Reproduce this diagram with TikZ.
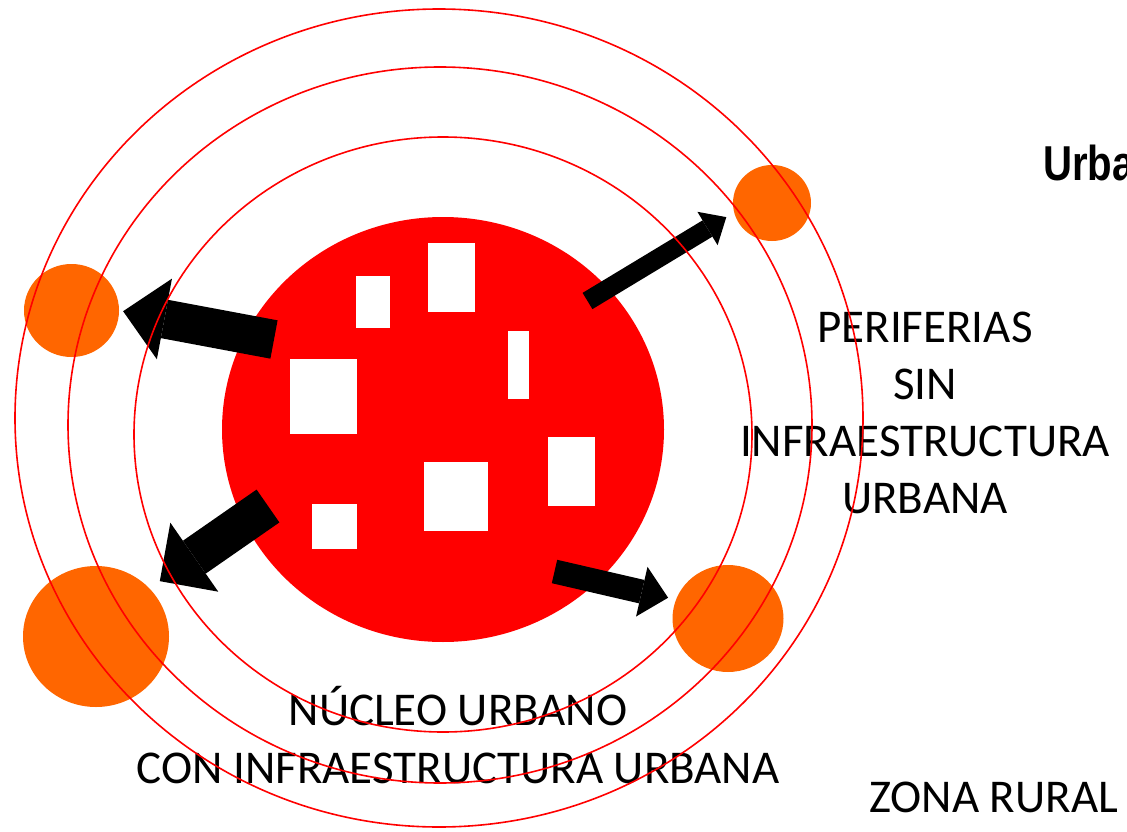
\documentclass[tikz,border=0pt]{standalone}
\usepackage{fontspec}
\setmainfont{Carlito}
\newfontfamily\titulofont[FakeStretch=0.82]{Liberation Sans}
\usetikzlibrary{shapes.geometric,arrows.meta}
\definecolor{rojo}{RGB}{255,0,0}
\definecolor{naranja}{RGB}{255,102,0}

\begin{document}
\begin{tikzpicture}[x=1pt,y=-1pt,
    anillo/.style={draw=rojo, line width=1.6pt},
    pueblo/.style={ellipse, fill=naranja, inner sep=0pt},
    casa/.style={fill=white},
    flecha/.style n args={3}{line width=#1,
      -{Triangle[length=#3, width=#2, line width=0pt]}},
    rotulo/.style={font=\fontsize{47}{58}\selectfont, inner sep=0pt, anchor=base}]
  \useasboundingbox[fill=white] (0,0) rectangle (1127,832);
  % nucleo urbano
  \node[ellipse, fill=rojo, inner sep=0pt, minimum width=442pt,
    minimum height=425pt] (nucleo) at (443,429.5) {};
  \fill[casa] (356,276) rectangle (390,328);
  \fill[casa] (428,243) rectangle (475,312);
  \fill[casa] (508,331) rectangle (529,399);
  \fill[casa] (290,359) rectangle (357,434);
  \fill[casa] (548,437) rectangle (595,506);
  \fill[casa] (424,462) rectangle (488,531);
  \fill[casa] (312,504) rectangle (357,549);
  % periferias
  \node[pueblo, minimum width=78pt, minimum height=76pt] (pne) at (772,203) {};
  \node[pueblo, minimum width=95pt, minimum height=93pt] (po) at (71.5,310.5) {};
  \node[pueblo, minimum width=146pt, minimum height=141pt] (pso) at (96,636.5) {};
  \node[pueblo, minimum width=111pt, minimum height=107pt] (pse) at (728,618.5) {};
  % flechas
  \coordinate (sale1) at (274,339.5);
  \coordinate (sale2) at (587.5,301);
  \coordinate (sale3) at (268,506);
  \coordinate (sale4) at (554.5,571.5);
  \draw[flecha={39pt}{82pt}{42pt}, shorten >=4pt] (sale1) -- (po.east);
  \draw[flecha={19pt}{39pt}{22pt}, shorten >=9pt] (sale2) -- (pne.194.6);
  \draw[flecha={40pt}{84pt}{42pt}, shorten >=12.5pt] (sale3) -- (pso.42.8);
  \draw[flecha={24pt}{51pt}{27pt}, shorten >=8pt] (sale4) -- (pse.160);
  % textos
  \node[rotulo] (nucleo1) at (458,725) {NÚCLEO URBANO};
  \node[rotulo] (nucleo2) at (458,783) {CON INFRAESTRUCTURA URBANA};
  \foreach \t [count=\i] in {PERIFERIAS, SIN, INFRAESTRUCTURA, URBANA}
    \node[rotulo] (peri\i) at (925,{342+57*(\i-1)}) {\t};
  \node[rotulo, anchor=base west] (rural) at (869,812) {ZONA RURAL};
  \node[anchor=base west, inner sep=0pt,
    font=\titulofont\bfseries\fontsize{49}{58}\selectfont] (titulo) at (1043,180) {Urba};
  % anillos
  \foreach \cx/\cy/\rx/\ry in {443/434.5/309/297.5, 440/425/372/358, 439/418/424/409}
    \draw[anillo] (\cx,\cy) ellipse [x radius=\rx, y radius=\ry];
\end{tikzpicture}
\end{document}
